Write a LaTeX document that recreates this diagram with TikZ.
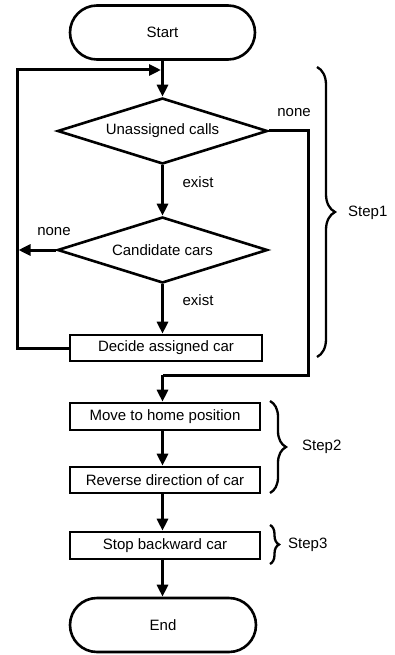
\documentclass[tikz,border=0pt]{standalone}
\usepackage{fontspec}
\setmainfont{Liberation Sans}
\usetikzlibrary{arrows.meta,shapes.geometric,decorations.pathreplacing}
\tikzset{
  every node/.style={font=\fontsize{15}{17}\selectfont},
  term/.style={draw,line width=2.6,rectangle,rounded corners=27,minimum width=185,minimum height=54,inner sep=0},
  decision/.style={draw,line width=2.6,diamond,aspect=3.2,minimum width=210,minimum height=66,inner sep=0},
  proc/.style={draw,line width=2.6,rectangle,minimum width=190,minimum height=26,inner sep=0},
  conn/.style={line width=3,-{Triangle[length=12,width=11]}},
  plain/.style={line width=3},
  brc/.style={line width=2.3,decorate,decoration={brace,amplitude=#1}},
  lbl/.style={inner sep=0}
}
\begin{document}
\begin{tikzpicture}[x=1pt,y=-1pt]
\useasboundingbox (0,0) rectangle (394,655);
\node[term] (start) at (162.5,32.5) {Start};
\node[decision] (d1) at (162.5,131) {Unassigned calls};
\node[decision] (d2) at (162.5,250) {Candidate cars};
\node[proc,minimum width=192] (decide) at (166,348) {Decide assigned car};
\node[proc,minimum height=27] (move) at (165,416.5) {Move to home position};
\node[proc] (rev) at (165,480) {Reverse direction of car};
\node[proc,minimum height=27] (stop) at (165,545.5) {Stop backward car};
\node[term,minimum width=186] (end) at (163,625) {End};

\coordinate (j1) at (162.5,70);
\coordinate (lft) at (17,70);
\coordinate (j2) at (17,250);
\coordinate (r1) at (308,131);
\coordinate (r2) at (308,375);
\coordinate (r3) at (162.5,375);

% main flow
\draw[conn] (start.south) -- (d1.north);
\draw[conn] (d1.south) -- (d2.north);
\draw[conn] (d2.south) -- (d2.south |- decide.north);
\draw[conn] (r3 |- move.south) -- (r3 |- rev.north);
\draw[conn] (r3 |- rev.south) -- (r3 |- stop.north);
\draw[conn] (r3 |- stop.south) -- (r3 |- end.north);

% loops
\draw[conn,shorten >=1.5] (decide.west) -| (lft) -- (j1);
\draw[conn,shorten >=1.5] (d2.west) -- (j2);
\draw[plain] (d1.east) -- (r1) -- (r2) -- (r3);
\draw[conn] (r3) -- (r3 |- move.north);

% labels
\node[lbl] (n1) at (294,113) {none};
\node[lbl] (e1) at (198,182) {exist};
\node[lbl] (n2) at (54,232) {none};
\node[lbl] (e2) at (198,300) {exist};

% braces
\draw[brc=18] (317,67) -- (317,357);
\node[lbl,anchor=west] (s1) at (348,213) {Step1};
\draw[brc=16] (270,401) -- (270,493);
\node[lbl,anchor=west] (s2) at (302,447) {Step2};
\draw[brc=9] (270,525) -- (270,564);
\node[lbl,anchor=west] (s3) at (288,545) {Step3};
\end{tikzpicture}
\end{document}
